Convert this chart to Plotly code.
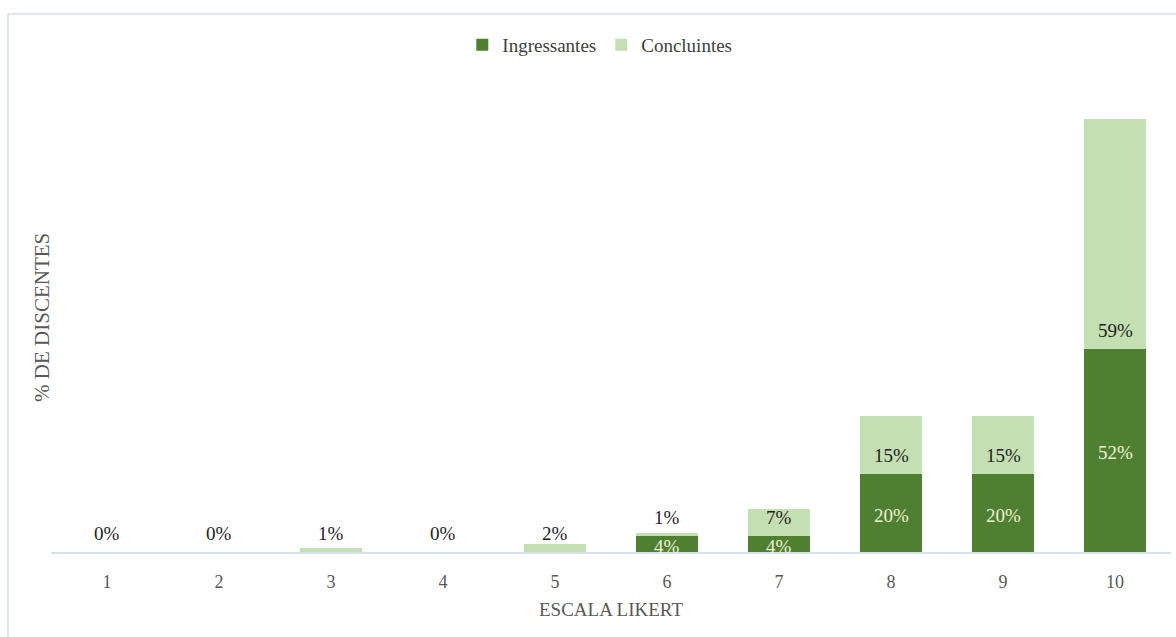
import plotly.graph_objects as go

# Escala Likert: percentual de discentes por nota
categorias = ["1", "2", "3", "4", "5", "6", "7", "8", "9", "10"]
ingressantes = [0, 0, 0, 0, 0, 4, 4, 20, 20, 52]
concluintes = [0, 0, 1, 0, 2, 1, 7, 15, 15, 59]

COR_ING = "#4f7f31"
COR_CON = "#c4dfb2"
FONTE = "Liberation Serif"

fig = go.Figure()
fig.add_trace(go.Bar(name="Ingressantes", x=categorias, y=ingressantes,
                     marker=dict(color=COR_ING, line=dict(width=0)), width=0.56))
fig.add_trace(go.Bar(name="Concluintes", x=categorias, y=concluintes,
                     marker=dict(color=COR_CON, line=dict(width=0)), width=0.56))

anotacoes = []
for i, (vi, vc) in enumerate(zip(ingressantes, concluintes)):
    # rótulo dos concluintes logo acima da base do segmento claro
    anotacoes.append(dict(x=i, y=vi, xref="x", yref="y", text=f"{vc}%",
                          showarrow=False, yanchor="middle", yshift=19,
                          font=dict(family=FONTE, size=19, color="#1e1e1e")))
    if vi > 0:
        anotacoes.append(dict(x=i, y=vi / 2, xref="x", yref="y", text=f"{vi}%",
                              showarrow=False, yanchor="middle", yshift=-2,
                              font=dict(family=FONTE, size=19, color="#eef0d8")))

# título do eixo vertical
anotacoes.append(dict(x=-0.008, y=0.518, xref="paper", yref="paper", text="% DE DISCENTES",
                      textangle=-90, showarrow=False, xanchor="center", yanchor="middle",
                      font=dict(family=FONTE, size=21, color="#595959")))

fig.update_layout(
    barmode="stack",
    width=1176, height=637,
    margin=dict(l=51, r=5, t=100, b=85),
    paper_bgcolor="white", plot_bgcolor="white",
    font=dict(family=FONTE, size=18, color="#595959"),
    legend=dict(orientation="h", x=0.49, xanchor="center", y=1.122, yanchor="middle",
                bgcolor="rgba(0,0,0,0)",
                font=dict(family=FONTE, size=19, color="#404040"),
                itemwidth=30, traceorder="normal"),
    xaxis=dict(showgrid=False, showline=True, linecolor="#d6e0ea", linewidth=1.5,
               ticks="", ticklabelstandoff=13,
               tickfont=dict(family=FONTE, size=18, color="#595959"),
               title=dict(text="ESCALA LIKERT", standoff=11,
                          font=dict(family=FONTE, size=19, color="#595959"))),
    yaxis=dict(range=[0, 452 / 3.9], showgrid=False, showticklabels=False,
               zeroline=False, showline=False),
    annotations=anotacoes,
    shapes=[dict(type="rect", xref="paper", yref="paper", x0=-0.0384, x1=1.02,
                 y0=-0.2, y1=1.19, line=dict(color="#d3dfea", width=1.5),
                 fillcolor="rgba(0,0,0,0)", layer="below")],
)

fig.write_html("out.html")
